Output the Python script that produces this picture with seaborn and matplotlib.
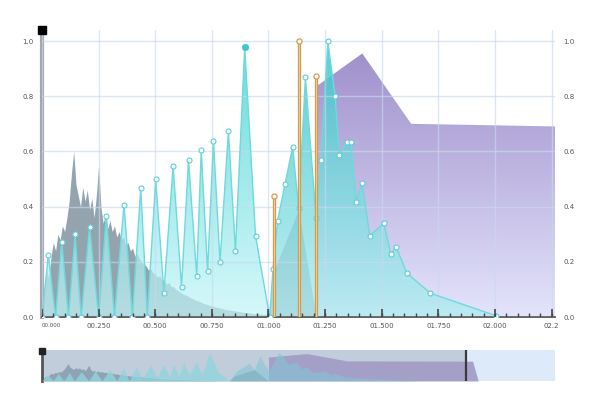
import numpy as np
import pandas as pd
import matplotlib
matplotlib.use("Agg")
import matplotlib.pyplot as plt
import seaborn as sns
from matplotlib.colors import to_rgba

# ---------------- data ----------------
gray_x = [round(0.01 * i, 2) for i in range(101)] + [1.025, 1.133, 1.19, 1.21]
gray_y = [0.05, 0.10, 0.17, 0.14, 0.22, 0.27, 0.24, 0.30, 0.28, 0.33,
          0.31, 0.36, 0.42, 0.52, 0.60, 0.48, 0.44, 0.40, 0.47, 0.42,
          0.46, 0.39, 0.43, 0.36, 0.44, 0.55, 0.40, 0.34, 0.37, 0.32,
          0.35, 0.31, 0.33, 0.29, 0.31, 0.28, 0.29, 0.26, 0.27, 0.24,
          0.25, 0.22, 0.23, 0.21, 0.20, 0.19, 0.185, 0.17, 0.175, 0.16,
          0.155, 0.145, 0.15, 0.135, 0.13, 0.12, 0.125, 0.11, 0.11, 0.10,
          0.095, 0.09, 0.085, 0.08, 0.078, 0.072, 0.068, 0.065, 0.06, 0.058,
          0.055, 0.05, 0.048, 0.045, 0.042, 0.04, 0.038, 0.036, 0.034, 0.032,
          0.03, 0.028, 0.026, 0.025, 0.024, 0.022, 0.021, 0.02, 0.018, 0.017,
          0.016, 0.015, 0.014, 0.013, 0.012, 0.012, 0.011, 0.01, 0.01, 0.009,
          0.008, 0.17, 0.39, 0.10, 0.0]

cyanA_x = [0.0, 0.028, 0.06, 0.087, 0.117, 0.146, 0.173, 0.21, 0.25, 0.284,
           0.32, 0.362, 0.399, 0.436, 0.465, 0.502, 0.538, 0.579, 0.616, 0.647,
           0.683, 0.703, 0.731, 0.757, 0.786, 0.823, 0.854, 0.895, 0.943, 1.005]
cyanA_y = [0.0, 0.225, 0.0, 0.273, 0.0, 0.30, 0.0, 0.327, 0.0, 0.367,
           0.0, 0.407, 0.0, 0.466, 0.0, 0.50, 0.088, 0.547, 0.109, 0.569,
           0.149, 0.605, 0.166, 0.639, 0.199, 0.674, 0.24, 0.978, 0.293, 0.0]

cyanB_x = [1.005, 1.02, 1.04, 1.073, 1.107, 1.133, 1.163, 1.21, 1.232, 1.262,
           1.294, 1.313, 1.345, 1.365, 1.387, 1.413, 1.447, 1.51, 1.54, 1.563,
           1.61, 1.715, 2.003]
cyanB_y = [0.0, 0.174, 0.349, 0.482, 0.617, 0.394, 0.868, 0.357, 0.569, 1.0,
           0.80, 0.587, 0.635, 0.633, 0.418, 0.487, 0.295, 0.339, 0.227, 0.255,
           0.16, 0.086, 0.005]

purple_x = [1.21, 1.414, 1.63, 2.30, 2.33]
purple_y = [0.835, 0.955, 0.70, 0.69, 0.0]

orange_x = [1.023, 1.133, 1.211]
orange_y = [0.44, 1.0, 0.873]

x_ticks = [0.0, 0.25, 0.5, 0.75, 1.0, 1.25, 1.5, 1.75, 2.0, 2.25]
x_labels = ["00.000", "00.250", "00.500", "00.750", "01.000", "01.250",
            "01.500", "01.750", "02.000", "02.2"]
x_minor = [round(0.05 * i, 2) for i in range(46)]
y_ticks = [0.0, 0.2, 0.4, 0.6, 0.8, 1.0]
y_labels = ["0.0", "0.2", "0.4", "0.6", "0.8", "1.0"]

XMAX = 2.265
YMAX = 1.04
FULLMAX = 2.74
RECT = [0.07, 0.2075, 0.855, 0.7175]

# ---------------- style ----------------
sns.set_theme(style="white")
plt.rcParams["font.family"] = ["DejaVu Sans"]

fig = plt.figure(figsize=(6, 4), dpi=100)
ax = fig.add_axes(RECT)


def grad_fill(a, x, y, top, bot, z, ytop=1.0):
    poly = a.fill_between(x, y, 0, facecolor="none", edgecolor="none", lw=0, zorder=z)
    g = np.linspace(0, 1, 256)[:, None, None]
    ct = np.array(to_rgba(top[0], top[1]))
    cb = np.array(to_rgba(bot[0], bot[1]))
    arr = ct * (1 - g) + cb * g
    im = a.imshow(arr, extent=[min(x), max(x), 0, ytop], origin="upper",
                  aspect="auto", zorder=z, interpolation="bilinear")
    im.set_clip_path(poly.get_paths()[0], transform=a.transData)
    return im


# grid (drawn over the fills, semi transparent)
ax.set_xticks(x_ticks)
ax.set_yticks(y_ticks)
ax.set_axisbelow(False)
ax.grid(True, which="major", color="#c9d9ef", alpha=0.65, lw=1.0)

# areas
grad_fill(ax, purple_x, purple_y, ("#9d8dca", 1.0), ("#e4e4fc", 1.0), 1.0)
ax.fill_between(gray_x, gray_y, 0, color="#8e9fab", alpha=0.95, lw=0, zorder=1.2)
grad_fill(ax, cyanA_x, cyanA_y, ("#45d2d4", 0.82), ("#c4f5f8", 0.7), 1.4)
grad_fill(ax, cyanB_x, cyanB_y, ("#3cc6c9", 0.85), ("#b2ecf1", 0.8), 1.6)

# lines + markers
sns.lineplot(x=cyanA_x, y=cyanA_y, ax=ax, color="#6fd9dd", lw=1.0, sort=False,
             estimator=None, marker="o", markersize=3.6, markerfacecolor="white",
             markeredgecolor="#5ccfd5", markeredgewidth=0.8, zorder=6)
sns.lineplot(x=cyanB_x, y=cyanB_y, ax=ax, color="#6fd9dd", lw=1.0, sort=False,
             estimator=None, marker="o", markersize=3.6, markerfacecolor="white",
             markeredgecolor="#5ccfd5", markeredgewidth=0.8, zorder=6)
imax = int(np.argmax(cyanA_y))
sns.scatterplot(x=[cyanA_x[imax]], y=[cyanA_y[imax]], ax=ax, s=22,
                color="#3ec8ce", edgecolor="#3ec8ce", zorder=7)

# orange stems
ax.bar(orange_x, orange_y, width=0.008, color="#f4ddb2", edgecolor="#d29b4e",
       lw=0.9, zorder=7)
sns.scatterplot(x=orange_x, y=orange_y, ax=ax, s=14, color="white",
                edgecolor="#d29b4e", linewidth=0.9, zorder=8)

ax.set_xlim(0, XMAX)
ax.set_ylim(0, YMAX)
ax.set_xticklabels(x_labels)
ax.set_yticklabels(y_labels)
ax.set_xlabel("")
ax.set_ylabel("")

ax.tick_params(axis="x", which="both", length=0, labelsize=5,
               labelcolor="#555555", pad=4)
ax.tick_params(axis="y", which="both", left=False, right=False, length=0,
               labelleft=True, labelright=True, labelsize=5,
               labelcolor="#555555", pad=6)
ax.get_xticklabels()[0].set_horizontalalignment("left")
ax.get_xticklabels()[0].set_fontsize(4)

ax.spines["top"].set_visible(False)
ax.spines["right"].set_visible(False)
ax.spines["left"].set_color("#a3a8ad")
ax.spines["left"].set_linewidth(3)
ax.spines["bottom"].set_color("#555555")
ax.spines["bottom"].set_linewidth(1.3)

# overlay axes for the inward x ticks (always on top of the fills)
axt = fig.add_axes(RECT, facecolor="none")
axt.vlines(x_minor, 0, 0.016, color="#444444", lw=1.0)
axt.vlines(x_ticks, 0, 0.028, color="#444444", lw=1.2)
axt.set_xlim(0, XMAX)
axt.set_ylim(0, YMAX)
axt.set_axis_off()
axt.plot([0], [YMAX], marker="s", ms=6, color="black", clip_on=False, zorder=10)

# ---------------- scrollbar preview ----------------
ax2 = fig.add_axes([0.07, 0.0475, 0.855, 0.0775])
ax2.set_facecolor("#dceafa")
ax2.axvspan(0, XMAX, color="#c1cddb", lw=0, zorder=0)
ax2.fill_between(purple_x, purple_y, 0, color="#a09ac4", alpha=0.9, lw=0, zorder=1)
ax2.fill_between(gray_x, gray_y, 0, color="#8a9fb0", alpha=0.9, lw=0, zorder=2)
ax2.fill_between(cyanA_x, cyanA_y, 0, color="#8fd6de", alpha=0.75, lw=0, zorder=3)
ax2.fill_between(cyanB_x, cyanB_y, 0, color="#84c6d6", alpha=0.6, lw=0, zorder=4)
ax2.set_xlim(0, FULLMAX)
ax2.set_ylim(0, 1.08)
ax2.set_xticks([])
ax2.set_yticks([])
for s in ["top", "right", "bottom"]:
    ax2.spines[s].set_visible(False)
ax2.spines["left"].set_color("#555555")
ax2.spines["left"].set_linewidth(2)
ax2.axvline(XMAX, color="#3a3a3a", lw=1.6, zorder=6)
ax2.plot([0], [1.05], marker="s", ms=4, color="#222222", clip_on=False, zorder=10)

fig.savefig("out.png", dpi=100)
